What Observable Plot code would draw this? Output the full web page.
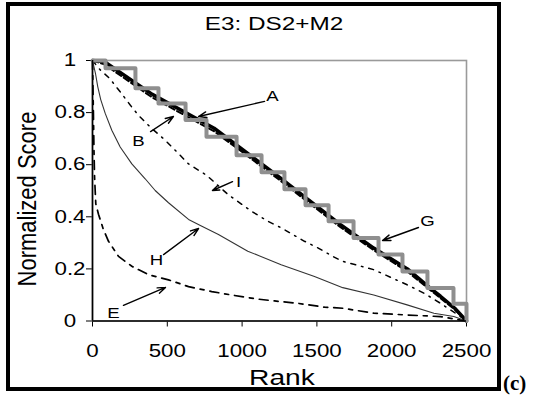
<!DOCTYPE html>
<html><head><meta charset="utf-8">
<script src="https://cdn.jsdelivr.net/npm/d3@7"></script>
<script src="https://cdn.jsdelivr.net/npm/@observablehq/plot@0.6"></script>
<style>
html,body{margin:0;padding:0;background:#fff;}
#wrap{position:relative;width:536px;height:404px;overflow:hidden;font-family:Arial,"Liberation Sans",sans-serif;background:#fff;}
#frame{position:absolute;left:6px;top:2px;width:495px;height:389px;box-sizing:border-box;border:4px solid #000;pointer-events:none;z-index:2;}
.lbl{position:absolute;white-space:nowrap;color:#000;z-index:3;line-height:1;text-align:center;font-family:Arial,"Liberation Sans",sans-serif;}
#title{left:174px;top:13.5px;width:200px;font-size:19px;transform:scaleX(1.28);}
#xlab{left:182px;top:367px;width:200px;font-size:22px;transform:scaleX(1.28);}
#ylab{left:-72px;top:188px;width:200px;height:22px;font-size:22px;transform:rotate(-90deg) scaleY(1.2);}
#tag{left:503px;top:373px;font-family:"Liberation Serif","Times New Roman",serif;font-weight:bold;font-size:21px;text-align:left;}
#plot{position:absolute;left:0;top:0;z-index:1;}
</style>
</head><body>
<div id="wrap">
  <div id="plot"></div>
  <div id="frame"></div>
  <div class="lbl" id="title"></div>
  <div class="lbl" id="xlab"></div>
  <div class="lbl" id="ylab"></div>
  <div class="lbl" id="tag"></div>
</div>
<script>
// ---- text ----
const titleText = "E3: DS2+M2";
const xLabel = "Rank";
const yLabel = "Normalized Score";
const tagText = "(c)";

// ---- ticks ----
const xTicks = [0, 500, 1000, 1500, 2000, 2500];
const yTicks = [0, 0.2, 0.4, 0.6, 0.8, 1];
const yTickLabels = ["0", "0.2", "0.4", "0.6", "0.8", "1"];

// ---- series (rank, normalized score) ----
const curveA = [[0,1],[80,0.995],[400,0.87],[813,0.74],[1033,0.645],[1253,0.55],[1500,0.44],[1658,0.37],[1880,0.28],[2105,0.2],[2259,0.125],[2326,0.095],[2420,0.05],[2500,0]];
const curveB = [[0,1],[80,0.985],[400,0.858],[813,0.728],[1033,0.635],[1253,0.54],[1500,0.43],[1658,0.36],[1880,0.272],[2105,0.19],[2259,0.118],[2326,0.088],[2420,0.045],[2500,0]];
const curveG = [[0,1],[87,0.97],[287,0.893],[441,0.835],[622,0.772],[762,0.707],[963,0.636],[1130,0.571],[1283,0.506],[1424,0.444],[1578,0.383],[1745,0.319],[1912,0.255],[2072,0.19],[2239,0.127],[2413,0.066],[2500,0]];
const curveI = [[0,1],[50,0.965],[113,0.932],[185,0.88],[252,0.829],[307,0.79],[385,0.745],[486,0.694],[564,0.649],[642,0.603],[764,0.559],[905,0.486],[1061,0.422],[1172,0.383],[1261,0.358],[1417,0.306],[1506,0.281],[1606,0.248],[1673,0.229],[1880,0.197],[2103,0.139],[2215,0.107],[2326,0.068],[2460,0.017],[2500,0]];
const curveH = [[0,1],[20,0.95],[35,0.9],[55,0.85],[85,0.797],[129,0.732],[185,0.668],[263,0.603],[352,0.546],[419,0.501],[508,0.454],[642,0.39],[731,0.364],[842,0.332],[1038,0.268],[1261,0.216],[1484,0.171],[1673,0.128],[1880,0.1],[2103,0.062],[2282,0.03],[2415,0.017],[2500,0]];
const curveE = [[0,1],[6,0.8],[10,0.65],[14,0.55],[22,0.45],[40,0.41],[73,0.351],[107,0.306],[174,0.248],[263,0.21],[374,0.178],[508,0.158],[642,0.132],[797,0.113],[927,0.1],[1105,0.084],[1217,0.077],[1372,0.068],[1551,0.053],[1673,0.049],[1880,0.03],[2103,0.023],[2326,0.017],[2500,0]];

// ---- annotations: label position and arrow (rank, score) ----
const annLabels = ["A", "B", "I", "G", "H", "E"];
const annText = [[1203,0.862],[307,0.689],[976,0.532],[2239,0.382],[428,0.232],[140,0.029]];
const annFrom = [[1150,0.843],[388,0.727],[936,0.535],[2179,0.359],[475,0.255],[207,0.060]];
const annTo   = [[709,0.785],[541,0.785],[802,0.501],[1939,0.309],[709,0.355],[488,0.129]];

// ---- build ----
const toRows = a => a.map(([x, y]) => ({x, y}));
const ann = annLabels.map((t, i) => ({t, x: annText[i][0], y: annText[i][1],
  x1: annFrom[i][0], y1: annFrom[i][1], x2: annTo[i][0], y2: annTo[i][1]}));
const yTickRows = yTicks.map((v, i) => ({v, s: yTickLabels[i]}));

const chart = Plot.plot({
  width: 536, height: 404,
  marginLeft: 92, marginRight: 70, marginTop: 60, marginBottom: 83.5,
  style: {background: "transparent", fontFamily: "Arial, 'Liberation Sans', sans-serif", fontSize: "18px", color: "#000"},
  x: {domain: [0, 2500], ticks: xTicks, tickSize: 6, tickPadding: 17, tickFormat: d => String(d), label: null},
  y: {domain: [0, 1], ticks: yTicks, tickSize: 6, tickFormat: () => "", label: null},
  marks: [
    Plot.frame({stroke: "#9a9a9a", strokeWidth: 1.6}),
    Plot.line(toRows(curveE), {x: "x", y: "y", stroke: "#000", strokeWidth: 1.7, strokeDasharray: "9,6,4,6"}),
    Plot.line(toRows(curveH), {x: "x", y: "y", stroke: "#333", strokeWidth: 1.1}),
    Plot.line(toRows(curveI), {x: "x", y: "y", stroke: "#000", strokeWidth: 1.5, strokeDasharray: "5,6,1.5,6"}),
    Plot.line(toRows(curveA), {x: "x", y: "y", stroke: "#000", strokeWidth: 3.5}),
    Plot.line(toRows(curveB), {x: "x", y: "y", stroke: "#000", strokeWidth: 2, strokeDasharray: "6,3"}),
    Plot.line(toRows(curveG), {x: "x", y: "y", curve: "step-after", stroke: "#8f8f8f", strokeWidth: 4}),
    Plot.ruleX([0], {stroke: "#000", strokeWidth: 1.6}),
    Plot.ruleY([0], {stroke: "#000", strokeWidth: 1.6}),
    Plot.text(yTickRows, {y: "v", text: "s", frameAnchor: "left", dx: -22.5, textAnchor: "middle", fontSize: 18, fill: "#000"}),
    Plot.arrow(ann, {x1: "x1", y1: "y1", x2: "x2", y2: "y2", stroke: "#000", strokeWidth: 1.4, headLength: 9, headAngle: 40}),
    Plot.text(ann, {x: "x", y: "y", text: "t", fontSize: 15, fill: "#000"})
  ]
});
document.getElementById("plot").appendChild(chart);

// horizontal stretch of the glyphs, as in the reference
d3.select(chart).selectAll("text").each(function() {
  const len = this.getComputedTextLength();
  if (len > 0) {
    this.setAttribute("textLength", len * 1.24);
    this.setAttribute("lengthAdjust", "spacingAndGlyphs");
  }
});

document.getElementById("title").textContent = titleText;
document.getElementById("xlab").textContent = xLabel;
document.getElementById("ylab").textContent = yLabel;
document.getElementById("tag").textContent = tagText;
</script>
</body></html>
